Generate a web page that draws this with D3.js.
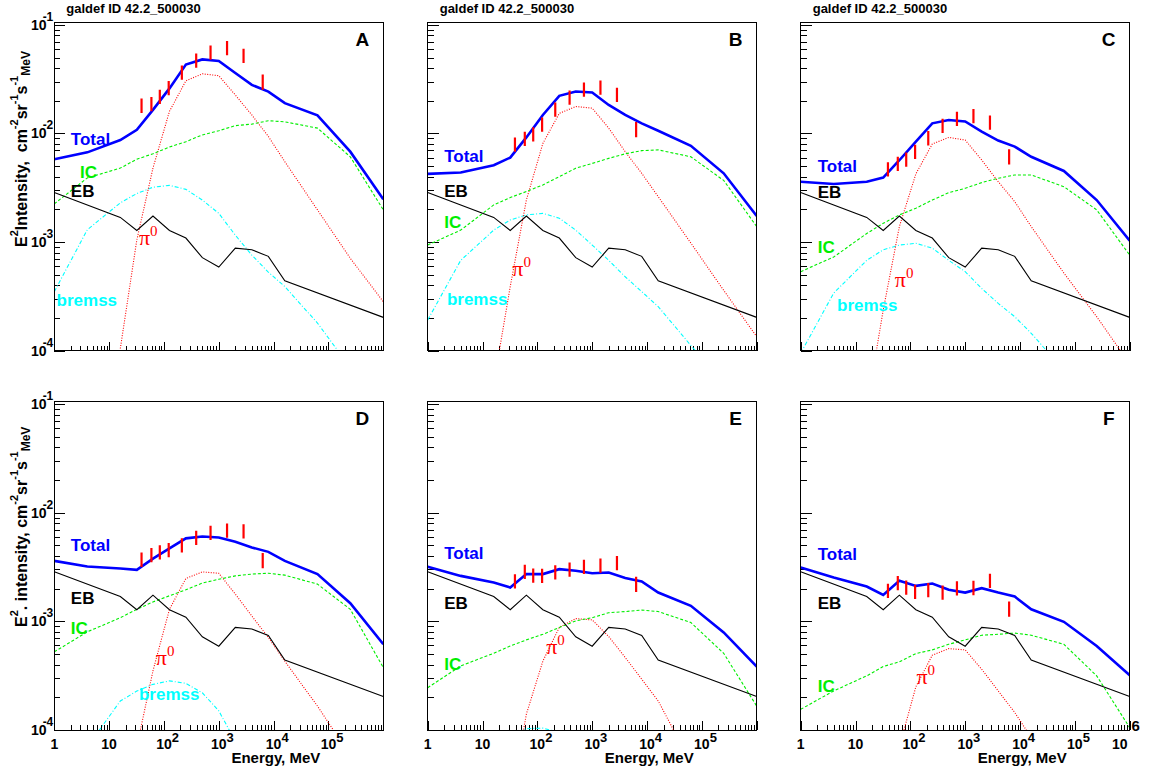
<!DOCTYPE html>
<html lang="en">
<head>
<meta charset="UTF-8">
<title>galdef ID 42.2_500030</title>
<script src="https://d3js.org/d3.v7.min.js"></script>
<style>
    body { margin: 0; background: #fff; }
    svg { font-family: 'Liberation Sans', Arial, Helvetica, sans-serif; }
    .tick line { stroke: #000; shape-rendering: crispEdges; }
    .lbl { font-weight: bold; }
</style>
</head>
<body>
<svg id="chart" width="1159" height="772"></svg>
<script>
// model energy grid (MeV), shared by Total / IC / bremss / pi0 curves
const energies = [1, 4, 16, 32, 63, 126, 251, 501, 1000, 2000, 4000, 8000, 16000, 63000, 250000, 1000000];

// panel A
const totalA  = [5.8e-3, 6.7e-3, 8.7e-3, 1.08e-2, 1.65e-2, 2.6e-2, 4.3e-2, 4.8e-2, 4.65e-2, 3.6e-2, 2.8e-2, 2.43e-2, 1.9e-2, 1.47e-2, 6.8e-3, 2.48e-3];
const icA     = [2.25e-3, 3.9e-3, 4.8e-3, 5.8e-3, 6.5e-3, 7.5e-3, 8.4e-3, 9.7e-3, 1.06e-2, 1.18e-2, 1.22e-2, 1.31e-2, 1.28e-2, 1.12e-2, 6.1e-3, 1.98e-3];
const bremssA = [3.5e-4, 1.3e-3, 2.3e-3, 2.8e-3, 3.2e-3, 3.33e-3, 3.06e-3, 2.44e-3, 1.84e-3, 1.16e-3, 7.6e-4, 5.3e-4, 3.9e-4, 1.8e-4, 7e-5, 2.5e-5];
const pi0A    = [null, null, 1.05e-4, 1.05e-3, 4.8e-3, 1.6e-2, 3.05e-2, 3.54e-2, 3.4e-2, 2.26e-2, 1.48e-2, 9.4e-3, 5.5e-3, 1.98e-3, 7.1e-4, 2.83e-4];
// panel B
const totalB  = [4.25e-3, 4.37e-3, 5.1e-3, 6.0e-3, 9.2e-3, 1.48e-2, 2.22e-2, 2.43e-2, 2.38e-2, 1.83e-2, 1.48e-2, 1.24e-2, 1.06e-2, 7.7e-3, 4.3e-3, 1.74e-3];
const icB     = [9.4e-4, 1.29e-3, 2.2e-3, 2.57e-3, 2.92e-3, 3.36e-3, 4.0e-3, 4.79e-3, 5.3e-3, 5.9e-3, 6.5e-3, 6.95e-3, 7.06e-3, 6.1e-3, 3.7e-3, 1.39e-3];
const bremssB = [1.92e-4, 6.8e-4, 1.29e-3, 1.6e-3, 1.78e-3, 1.84e-3, 1.66e-3, 1.29e-3, 9.4e-4, 6.8e-4, 4.8e-4, 3.5e-4, 2.55e-4, 1.12e-4, 5e-5, 2e-5];
const pi0B    = [null, null, 5e-5, 3.9e-4, 2.44e-3, 8.1e-3, 1.53e-2, 1.77e-2, 1.71e-2, 1.12e-2, 6.8e-3, 4.3e-3, 2.62e-3, 9.8e-4, 3.6e-4, 1.35e-4];
// panel C
const totalC  = [3.6e-3, 3.43e-3, 3.6e-3, 3.93e-3, 5.67e-3, 8.4e-3, 1.24e-2, 1.33e-2, 1.29e-2, 1.04e-2, 8.6e-3, 7.57e-3, 6.1e-3, 4.52e-3, 2.44e-3, 1.03e-3];
const icC     = [5.35e-4, 7.3e-4, 1.2e-3, 1.49e-3, 1.78e-3, 2.05e-3, 2.44e-3, 2.85e-3, 3.13e-3, 3.53e-3, 3.87e-3, 4.15e-3, 4.15e-3, 3.24e-3, 1.98e-3, 7.6e-4];
const bremssC = [9.5e-5, 3.4e-4, 6.8e-4, 8.5e-4, 9.4e-4, 9.75e-4, 8.8e-4, 6.8e-4, 5.35e-4, 3.75e-4, 2.73e-4, 2.06e-4, 1.45e-4, 6.6e-5, 3e-5, 1.5e-5];
const pi0C    = [null, null, 3e-5, 2.37e-4, 1.39e-3, 4.25e-3, 8.0e-3, 9.2e-3, 8.7e-3, 5.7e-3, 3.6e-3, 2.36e-3, 1.39e-3, 5.2e-4, 2.06e-4, 7.6e-5];
// panel D
const totalD  = [3.6e-3, 3.2e-3, 3.06e-3, 2.98e-3, 3.78e-3, 4.69e-3, 5.8e-3, 6.04e-3, 5.9e-3, 5.4e-3, 4.79e-3, 4.36e-3, 3.6e-3, 2.72e-3, 1.47e-3, 6.15e-4];
const icD     = [5.24e-4, 8.0e-4, 1.08e-3, 1.29e-3, 1.51e-3, 1.72e-3, 1.95e-3, 2.25e-3, 2.44e-3, 2.62e-3, 2.72e-3, 2.77e-3, 2.66e-3, 2.2e-3, 1.29e-3, 3.75e-4];
const bremssD = [1e-5, 7e-5, 1.85e-4, 2.28e-4, 2.63e-4, 2.83e-4, 2.69e-4, 2.2e-4, 1.5e-4, 7.9e-5, 3e-5, 1e-5, null, null, null, null];
const pi0D    = [null, null, null, 7e-5, 3.5e-4, 1.29e-3, 2.48e-3, 2.85e-3, 2.77e-3, 1.78e-3, 1.12e-3, 7.1e-4, 4.3e-4, 1.66e-4, 5.8e-5, 2e-5];
// panel E
const totalE  = [3.18e-3, 2.62e-3, 2.28e-3, 2.05e-3, 2.72e-3, 2.72e-3, 3.02e-3, 2.92e-3, 2.77e-3, 2.81e-3, 2.5e-3, 2.33e-3, 1.84e-3, 1.39e-3, 7.9e-4, 3.84e-4];
const icE     = [2.45e-4, 3.89e-4, 5.08e-4, 5.94e-4, 6.75e-4, 7.6e-4, 8.77e-4, 1.01e-3, 1.08e-3, 1.2e-3, 1.23e-3, 1.27e-3, 1.23e-3, 9.75e-4, 5.08e-4, 1.66e-4];
const bremssE = [null, 3e-5, 6e-5, 9e-5, 1.03e-4, 1.04e-4, 9.5e-5, 7e-5, 4e-5, 2e-5, null, null, null, null, null, null];
const pi0E    = [null, null, null, 2e-5, 1.4e-4, 4.3e-4, 8.8e-4, 1.06e-3, 1.03e-3, 7.25e-4, 4.65e-4, 2.93e-4, 1.85e-4, 5e-5, 2e-5, null];
// panel F
const totalF  = [3.13e-3, 2.53e-3, 2.09e-3, 1.75e-3, 2.36e-3, 2.12e-3, 2.23e-3, 1.95e-3, 1.84e-3, 2.02e-3, 1.84e-3, 1.69e-3, 1.29e-3, 9.9e-4, 5.94e-4, 3.19e-4];
const icF     = [1.55e-4, 2.29e-4, 3.15e-4, 3.84e-4, 4.24e-4, 5.05e-4, 5.46e-4, 6.15e-4, 6.75e-4, 7.45e-4, 7.6e-4, 7.8e-4, 7.45e-4, 6.15e-4, 3.15e-4, 1.05e-4];
const bremssF = [null, null, null, null, null, null, null, null, null, null, null, null, null, null, null, null];
const pi0F    = [null, null, null, null, 7e-5, 2.5e-4, 4.88e-4, 5.61e-4, 5.46e-4, 3.62e-4, 2.29e-4, 1.45e-4, 8.5e-5, 2e-5, null, null];

// extragalactic background (same in every panel)
const ebEnergies = [1, 16, 32, 63, 126, 251, 501, 1000, 2000, 4000, 8000, 16000, 1000000];
const ebValues   = [2.86e-3, 1.69e-3, 1.28e-3, 1.74e-3, 1.28e-3, 1.09e-3, 7.2e-4, 5.9e-4, 8.8e-4, 8.5e-4, 7.4e-4, 4.4e-4, 2.03e-4];

// EGRET data points
const pointEnergies = [39, 59, 84, 122, 212, 387, 707, 1414, 2828, 6325];
const relErr = [0.15, 0.15, 0.15, 0.15, 0.15, 0.15, 0.15, 0.15, 0.15, 0.16];
const ptsA = [1.82e-2, 1.88e-2, 2.2e-2, 2.64e-2, 3.68e-2, 4.73e-2, 5.62e-2, 6.16e-2, 5.23e-2, 3.0e-2];
const ptsB = [7.97e-3, 9.0e-3, 9.9e-3, 1.22e-2, 1.68e-2, 2.16e-2, 2.56e-2, 2.67e-2, 2.29e-2, 1.1e-2];
const ptsC = [4.73e-3, 5.32e-3, 5.81e-3, 6.84e-3, 9.14e-3, 1.19e-2, 1.38e-2, 1.46e-2, 1.27e-2, 6.17e-3];
const ptsD = [3.73e-3, 4.11e-3, 4.35e-3, 4.57e-3, 5.05e-3, 5.92e-3, 6.6e-3, 6.93e-3, 6.79e-3, 3.67e-3];
const ptsE = [2.36e-3, 2.88e-3, 2.67e-3, 2.65e-3, 2.86e-3, 3.03e-3, 3.21e-3, 3.3e-3, 3.48e-3, 2.22e-3];
const ptsF = [1.93e-3, 2.27e-3, 2.07e-3, 1.89e-3, 1.96e-3, 1.86e-3, 2.03e-3, 2.05e-3, 2.38e-3, 1.31e-3];

const titleText = "galdef ID 42.2_500030";
const xTickLabels = [1, 10, 100, 1000, 10000, 100000, 1000000];
const yTickLabels = [1e-1, 1e-2, 1e-3, 1e-4];

// layout
const W = 329, H = 328.3;
const panels = [
    { id: "A", x: 54.3, y: 22.5, total: totalA, ic: icA, bremss: bremssA, pi0: pi0A, pts: ptsA, top: true, left: true, last: false,
      labels: { total: [2, 9.0e-3], ic: [2.95, 4.45e-3], eb: [2, 2.98e-3], pi0: [35, 9.4e-4], bremss: [1.1, 2.93e-4] } },
    { id: "B", x: 427.7, y: 22.5, total: totalB, ic: icB, bremss: bremssB, pi0: pi0B, pts: ptsB, top: true, left: false, last: false,
      labels: { total: [2, 6.25e-3], ic: [2, 1.55e-3], eb: [2, 2.98e-3], pi0: [35, 4.9e-4], bremss: [2.24, 2.99e-4] } },
    { id: "C", x: 800.7, y: 22.5, total: totalC, ic: icC, bremss: bremssC, pi0: pi0C, pts: ptsC, top: true, left: false, last: false,
      labels: { total: [2.04, 5.06e-3], ic: [2.04, 8.95e-4], eb: [2.04, 2.92e-3], pi0: [52, 3.84e-4], bremss: [4.6, 2.64e-4] } },
    { id: "D", x: 54.3, y: 401.7, total: totalD, ic: icD, bremss: bremssD, pi0: pi0D, pts: ptsD, top: false, left: true, last: false,
      labels: { total: [2, 5.06e-3], ic: [2, 8.77e-4], eb: [2, 1.66e-3], pi0: [71, 3.94e-4], bremss: [35, 2.13e-4] } },
    { id: "E", x: 427.7, y: 401.7, total: totalE, ic: icE, bremss: bremssE, pi0: pi0E, pts: ptsE, top: false, left: false, last: false,
      labels: { total: [2, 4.25e-3], ic: [2, 4.03e-4], eb: [2, 1.49e-3], pi0: [145, 4.98e-4] } },
    { id: "F", x: 800.7, y: 401.7, total: totalF, ic: icF, bremss: bremssF, pi0: pi0F, pts: ptsF, top: false, left: false, last: true,
      labels: { total: [2.04, 4.15e-3], ic: [2.04, 2.55e-4], eb: [2.04, 1.49e-3], pi0: [129, 2.64e-4] } }
];

const svg = d3.select("#chart");

// writes text parts with super/subscripts into a <text>
function richText(text, parts, supSize, supRise, subSize, subDrop) {
    let shift = 0;
    parts.forEach(p => {
        const target = p.s === "sup" ? -supRise : p.s === "sub" ? subDrop : 0;
        const ts = text.append("tspan").text(p.t).attr("dy", target - shift);
        if (p.s === "sup") ts.attr("font-size", supSize);
        if (p.s === "sub") ts.attr("font-size", subSize);
        if (p.dx) ts.attr("dx", p.dx);
        shift = target;
    });
}

function drawPanel(p) {
    const g = svg.append("g").attr("transform", `translate(${p.x},${p.y})`);
    const x = d3.scaleLog().domain([1, 1e6]).range([0, W]);
    const y = d3.scaleLog().domain([1e-4, 0.105]).range([H, 0]);

    g.append("clipPath").attr("id", "clip" + p.id)
        .append("rect").attr("width", W).attr("height", H);

    // ticks
    const xMajor = d3.range(0, 7).map(i => Math.pow(10, i));
    const xMinor = [];
    d3.range(0, 6).forEach(i => d3.range(2, 10).forEach(k => xMinor.push(k * Math.pow(10, i))));
    const yMajor = [1e-4, 1e-3, 1e-2, 1e-1];
    const yMinor = [];
    d3.range(-4, 0).forEach(i => d3.range(2, 10).forEach(k => {
        const v = k * Math.pow(10, i);
        if (v < 0.105) yMinor.push(v);
    }));

    [d3.axisBottom(x).tickValues(xMinor).tickSize(-5), d3.axisBottom(x).tickValues(xMajor).tickSize(-9)].forEach(a => {
        g.append("g").attr("transform", `translate(0,${H})`)
            .call(a.tickSizeOuter(0).tickFormat(""))
            .call(s => s.select(".domain").remove());
    });
    [d3.axisLeft(y).tickValues(yMinor).tickSize(-6), d3.axisLeft(y).tickValues(yMajor).tickSize(-11)].forEach(a => {
        g.append("g").call(a.tickSizeOuter(0).tickFormat(""))
            .call(s => s.select(".domain").remove());
    });

    // curves
    const line = d3.line()
        .defined(d => d[1] != null)
        .x(d => x(d[0]))
        .y(d => y(d[1]));
    const plot = g.append("g").attr("clip-path", `url(#clip${p.id})`);
    const series = [
        { v: p.bremss, e: energies, color: "#00ffff", w: 1.1, dash: "4,2,1,2" },
        { v: p.pi0, e: energies, color: "#ff0000", w: 1.1, dash: "1,1.5" },
        { v: p.ic, e: energies, color: "#00ee00", w: 1.1, dash: "3,2" },
        { v: ebValues, e: ebEnergies, color: "#000000", w: 1.1, dash: null },
        { v: p.total, e: energies, color: "#0000ff", w: 2.6, dash: null }
    ];
    series.forEach(s => {
        plot.append("path")
            .datum(s.e.map((e, i) => [e, s.v[i]]))
            .attr("fill", "none")
            .attr("stroke", s.color)
            .attr("stroke-width", s.w)
            .attr("stroke-dasharray", s.dash)
            .attr("d", line);
    });

    // data points
    plot.selectAll("line.pt")
        .data(pointEnergies.map((e, i) => ({ e, v: p.pts[i], r: relErr[i] })))
        .join("line")
        .attr("class", "pt")
        .attr("x1", d => x(d.e)).attr("x2", d => x(d.e))
        .attr("y1", d => y(d.v * (1 - d.r))).attr("y2", d => y(d.v * (1 + d.r)))
        .attr("stroke", "#ff0000").attr("stroke-width", 2.2);

    // frame
    g.append("rect").attr("width", W).attr("height", H)
        .attr("fill", "none").attr("stroke", "#000").attr("stroke-width", 1)
        .attr("shape-rendering", "crispEdges");

    // component labels
    const L = p.labels;
    const addLbl = (pos, txt, color) => g.append("text").attr("class", "lbl")
        .attr("x", x(pos[0])).attr("y", y(pos[1])).attr("dy", "0.36em")
        .attr("font-size", 17).attr("fill", color).text(txt);
    addLbl(L.total, "Total", "#0000ff");
    addLbl(L.ic, "IC", "#00ee00");
    addLbl(L.eb, "EB", "#000000");
    if (L.bremss) addLbl(L.bremss, "bremss", "#00ffff");
    const pl = g.append("text").attr("x", x(L.pi0[0])).attr("y", y(L.pi0[1])).attr("dy", "0.25em")
        .attr("font-family", "'Liberation Serif', 'Times New Roman', serif")
        .attr("font-size", 22).attr("fill", "#ff0000");
    richText(pl, [{ t: "π" }, { t: "0", s: "sup" }], 15, 9, 0, 0);

    // panel letter
    g.append("text").attr("class", "lbl").attr("x", W - 21).attr("y", 23.5)
        .attr("text-anchor", "middle").attr("font-size", 19).text(p.id);

    if (p.top) {
        g.append("text").attr("class", "lbl").attr("x", 12).attr("y", -9.5)
            .attr("font-size", 13).text(titleText);
    }

    if (p.left) {
        yTickLabels.forEach(v => {
            const t = g.append("text").attr("class", "lbl").attr("font-size", 14)
                .attr("text-anchor", "end").attr("x", -1).attr("y", y(v) + 5);
            richText(t, [{ t: "10" }, { t: "-" + Math.round(-Math.log10(v)), s: "sup", dx: -4 }], 12, 9, 0, 0);
        });
        const yt = g.append("text").attr("class", "lbl").attr("font-size", 16)
            .attr("transform", `translate(${27 - p.x},${(p.top ? 247 : 627) - p.y}) rotate(-90)`);
        const parts = p.top
            ? [{ t: "E" }, { t: "2", s: "sup" }, { t: "Intensity,\u00a0\u00a0cm" }, { t: "-2", s: "sup" }, { t: "sr" }, { t: "-1", s: "sup" }, { t: "s" }, { t: "-1", s: "sup" }, { t: "MeV", s: "sub" }]
            : [{ t: "E" }, { t: "2", s: "sup" }, { t: ".\u00a0intensity,\u00a0cm" }, { t: "-2", s: "sup" }, { t: "sr" }, { t: "-1", s: "sup" }, { t: "s" }, { t: "-1", s: "sup" }, { t: "MeV", s: "sub" }];
        richText(yt, parts, 11, 9, 12, 3);
    }

    if (!p.top) {
        xTickLabels.forEach(v => {
            if (v === 1e6 && !p.last) return;
            const n = Math.round(Math.log10(v));
            const t = g.append("text").attr("class", "lbl").attr("font-size", 14).attr("y", H + 19.5);
            if (n < 2) {
                t.attr("x", x(v)).attr("text-anchor", "middle").text(String(v));
            } else if (v === 1e6) {
                t.attr("x", x(v) - 17.8);
                richText(t, [{ t: "10" }, { t: String(n), s: "sup", dx: 4 }], 15, 18, 0, 0);
            } else {
                t.attr("x", x(v) - 7.8);
                richText(t, [{ t: "10" }, { t: String(n), s: "sup" }], 13, 7, 0, 0);
            }
        });
        g.append("text").attr("class", "lbl").attr("font-size", 15)
            .attr("text-anchor", "end").attr("x", W - 63).attr("y", H + 33.5)
            .text("Energy, MeV");
    }
}

panels.forEach(drawPanel);
</script>
</body>
</html>
